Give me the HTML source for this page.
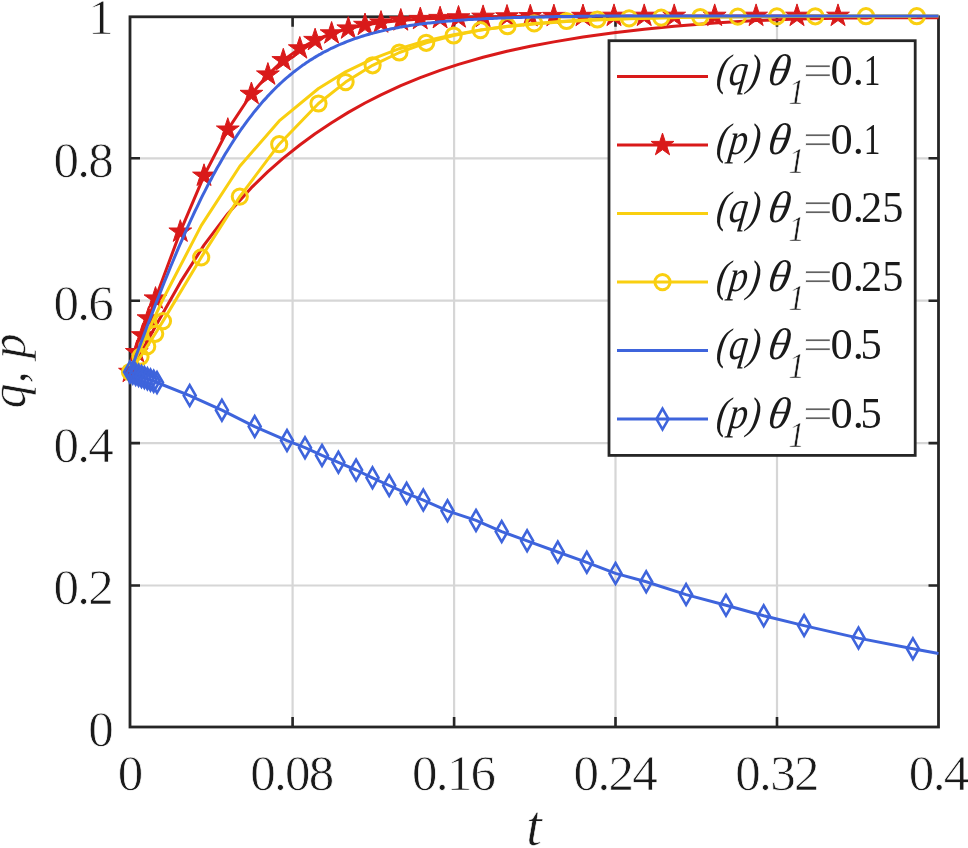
<!DOCTYPE html>
<html><head><meta charset="utf-8"><style>
html,body{margin:0;padding:0;background:#fff;}
svg{display:block;filter:blur(0.45px);}
text{font-family:"Liberation Serif",serif;fill:#1a1a1a;stroke:#fff;stroke-width:0.6px;paint-order:normal;}
.tk{font-size:51px;letter-spacing:-1.7px;stroke-width:0.75px;}
.lab{font-style:italic;}
.lg{font-size:44.5px;stroke-width:0px;}
</style></head><body>
<svg width="968" height="848" viewBox="0 0 968 848">
<rect width="968" height="848" fill="#fff"/>
<line x1="292.6" y1="16.8" x2="292.6" y2="727.0" stroke="#D6D6D6" stroke-width="2.2"/>
<line x1="130.0" y1="585.5" x2="938.5" y2="585.5" stroke="#D6D6D6" stroke-width="2.2"/>
<line x1="454.1" y1="16.8" x2="454.1" y2="727.0" stroke="#D6D6D6" stroke-width="2.2"/>
<line x1="130.0" y1="443.1" x2="938.5" y2="443.1" stroke="#D6D6D6" stroke-width="2.2"/>
<line x1="615.5" y1="16.8" x2="615.5" y2="727.0" stroke="#D6D6D6" stroke-width="2.2"/>
<line x1="130.0" y1="300.7" x2="938.5" y2="300.7" stroke="#D6D6D6" stroke-width="2.2"/>
<line x1="777.0" y1="16.8" x2="777.0" y2="727.0" stroke="#D6D6D6" stroke-width="2.2"/>
<line x1="130.0" y1="158.3" x2="938.5" y2="158.3" stroke="#D6D6D6" stroke-width="2.2"/>
<path d="M292.6 727.0 V717.0 M292.6 16.8 V26.8 M130.0 585.5 H140.0 M938.5 585.5 H928.5 M454.1 727.0 V717.0 M454.1 16.8 V26.8 M130.0 443.1 H140.0 M938.5 443.1 H928.5 M615.5 727.0 V717.0 M615.5 16.8 V26.8 M130.0 300.7 H140.0 M938.5 300.7 H928.5 M777.0 727.0 V717.0 M777.0 16.8 V26.8 M130.0 158.3 H140.0 M938.5 158.3 H928.5" stroke="#262626" stroke-width="2.6" fill="none"/>
<rect x="130.0" y="16.8" width="808.5" height="710.2" fill="none" stroke="#262626" stroke-width="2.8"/>
<path d="M130.0 372.0 L136.8 360.1 L142.6 349.7 L148.5 339.0 L155.5 326.2 L180.3 282.4 L204.0 245.1 L227.8 213.7 L251.4 187.7 L267.9 171.7 L283.3 158.2 L299.8 145.0 L315.1 133.8 L331.6 122.7 L348.3 112.4 L365.0 103.0 L381.0 94.9 L400.8 85.7 L420.3 77.7 L440.1 70.4 L458.5 64.4 L483.1 57.3 L507.0 51.3 L530.3 46.3 L553.9 41.9 L583.0 37.1 L614.0 32.8 L644.2 29.3 L674.2 26.3 L714.7 23.0 L756.1 20.6 L797.0 19.1 L838.0 18.2 L839.7 18.2 L841.4 18.2 L843.1 18.1 L844.8 18.1 L846.5 18.1 L848.2 18.1 L849.9 18.0 L851.6 18.0 L853.3 18.0 L855.0 18.0 L856.7 18.0 L858.4 17.9 L860.1 17.9 L861.8 17.9 L863.6 17.9 L865.3 17.9 L867.0 17.9 L868.7 17.8 L870.4 17.8 L872.1 17.8 L873.8 17.8 L875.5 17.8 L877.2 17.8 L878.9 17.8 L880.6 17.8 L882.3 17.7 L884.0 17.7 L885.7 17.7 L887.4 17.7 L889.1 17.7 L890.8 17.7 L892.5 17.7 L894.2 17.7 L895.9 17.7 L897.6 17.7 L899.3 17.7 L901.0 17.7 L902.7 17.7 L904.4 17.7 L906.1 17.7 L907.8 17.7 L909.5 17.7 L911.2 17.7 L912.9 17.7 L914.7 17.7 L916.4 17.7 L918.1 17.7 L919.8 17.7 L921.5 17.7 L923.2 17.7 L924.9 17.7 L926.6 17.7 L928.3 17.7 L930.0 17.7 L931.7 17.7 L933.4 17.7 L935.1 17.7 L936.8 17.7 L938.5 17.7" fill="none" stroke="#D91A1A" stroke-width="3.0" stroke-linejoin="round" stroke-linecap="butt"/>
<path d="M130.0 372.0 L136.8 352.2 L142.6 335.4 L148.5 318.5 L155.5 298.6 L180.3 231.7 L204.0 175.8 L227.8 129.7 L251.4 94.0 L267.9 74.6 L283.3 60.3 L299.8 48.5 L315.1 40.2 L331.6 33.5 L348.3 28.6 L365.0 25.0 L381.0 22.6 L400.8 20.5 L420.3 19.1 L440.1 18.2 L458.5 17.5 L483.1 16.9 L507.0 16.5 L530.3 16.3 L553.9 16.1 L583.0 16.0 L614.0 15.9 L644.2 15.9 L674.2 15.9 L714.7 15.9 L756.1 15.9 L797.0 15.9 L838.0 15.9" fill="none" stroke="#D91A1A" stroke-width="3.0" stroke-linejoin="round" stroke-linecap="butt"/>
<g fill="#D91A1A" stroke="#D91A1A" stroke-width="1"><path d="M130.0 360.0 L132.7 368.3 L141.4 368.3 L134.4 373.4 L137.1 381.7 L130.0 376.6 L122.9 381.7 L125.6 373.4 L118.6 368.3 L127.3 368.3Z"/><path d="M136.8 340.2 L139.5 348.5 L148.2 348.5 L141.2 353.7 L143.9 361.9 L136.8 356.8 L129.7 361.9 L132.4 353.7 L125.4 348.5 L134.1 348.5Z"/><path d="M142.6 323.4 L145.3 331.7 L154.0 331.7 L147.0 336.9 L149.7 345.1 L142.6 340.0 L135.5 345.1 L138.2 336.9 L131.2 331.7 L139.9 331.7Z"/><path d="M148.5 306.5 L151.2 314.8 L159.9 314.8 L152.9 319.9 L155.6 328.2 L148.5 323.1 L141.4 328.2 L144.1 319.9 L137.1 314.8 L145.8 314.8Z"/><path d="M155.5 286.6 L158.2 294.9 L166.9 294.9 L159.9 300.0 L162.6 308.3 L155.5 303.1 L148.4 308.3 L151.1 300.0 L144.1 294.9 L152.8 294.9Z"/><path d="M180.3 219.7 L183.0 228.0 L191.7 228.0 L184.7 233.1 L187.4 241.4 L180.3 236.3 L173.2 241.4 L175.9 233.1 L168.9 228.0 L177.6 228.0Z"/><path d="M204.0 163.8 L206.7 172.1 L215.4 172.1 L208.4 177.3 L211.1 185.5 L204.0 180.4 L196.9 185.5 L199.6 177.3 L192.6 172.1 L201.3 172.1Z"/><path d="M227.8 117.7 L230.5 126.0 L239.2 126.0 L232.2 131.1 L234.9 139.4 L227.8 134.3 L220.7 139.4 L223.4 131.1 L216.4 126.0 L225.1 126.0Z"/><path d="M251.4 82.0 L254.1 90.3 L262.8 90.3 L255.8 95.4 L258.5 103.7 L251.4 98.6 L244.3 103.7 L247.0 95.4 L240.0 90.3 L248.7 90.3Z"/><path d="M267.9 62.6 L270.6 70.9 L279.3 70.9 L272.3 76.0 L275.0 84.3 L267.9 79.2 L260.8 84.3 L263.5 76.0 L256.5 70.9 L265.2 70.9Z"/><path d="M283.3 48.3 L286.0 56.6 L294.7 56.6 L287.7 61.7 L290.4 70.0 L283.3 64.9 L276.2 70.0 L278.9 61.7 L271.9 56.6 L280.6 56.6Z"/><path d="M299.8 36.5 L302.5 44.8 L311.2 44.8 L304.2 49.9 L306.9 58.2 L299.8 53.0 L292.7 58.2 L295.4 49.9 L288.4 44.8 L297.1 44.8Z"/><path d="M315.1 28.2 L317.8 36.4 L326.5 36.4 L319.5 41.6 L322.2 49.9 L315.1 44.7 L308.0 49.9 L310.7 41.6 L303.7 36.4 L312.4 36.4Z"/><path d="M331.6 21.5 L334.3 29.8 L343.0 29.8 L336.0 34.9 L338.7 43.2 L331.6 38.1 L324.5 43.2 L327.2 34.9 L320.2 29.8 L328.9 29.8Z"/><path d="M348.3 16.6 L351.0 24.9 L359.7 24.9 L352.7 30.0 L355.4 38.3 L348.3 33.1 L341.2 38.3 L343.9 30.0 L336.9 24.9 L345.6 24.9Z"/><path d="M365.0 13.0 L367.7 21.3 L376.4 21.3 L369.4 26.5 L372.1 34.7 L365.0 29.6 L357.9 34.7 L360.6 26.5 L353.6 21.3 L362.3 21.3Z"/><path d="M381.0 10.6 L383.7 18.9 L392.4 18.9 L385.4 24.0 L388.1 32.3 L381.0 27.2 L373.9 32.3 L376.6 24.0 L369.6 18.9 L378.3 18.9Z"/><path d="M400.8 8.5 L403.5 16.8 L412.2 16.8 L405.2 21.9 L407.9 30.2 L400.8 25.1 L393.7 30.2 L396.4 21.9 L389.4 16.8 L398.1 16.8Z"/><path d="M420.3 7.1 L423.0 15.4 L431.7 15.4 L424.7 20.5 L427.4 28.8 L420.3 23.7 L413.2 28.8 L415.9 20.5 L408.9 15.4 L417.6 15.4Z"/><path d="M440.1 6.2 L442.8 14.4 L451.5 14.4 L444.5 19.6 L447.2 27.9 L440.1 22.7 L433.0 27.9 L435.7 19.6 L428.7 14.4 L437.4 14.4Z"/><path d="M458.5 5.5 L461.2 13.8 L469.9 13.8 L462.9 18.9 L465.6 27.2 L458.5 22.1 L451.4 27.2 L454.1 18.9 L447.1 13.8 L455.8 13.8Z"/><path d="M483.1 4.9 L485.8 13.2 L494.5 13.2 L487.5 18.3 L490.2 26.6 L483.1 21.5 L476.0 26.6 L478.7 18.3 L471.7 13.2 L480.4 13.2Z"/><path d="M507.0 4.5 L509.7 12.8 L518.4 12.8 L511.4 18.0 L514.1 26.3 L507.0 21.1 L499.9 26.3 L502.6 18.0 L495.6 12.8 L504.3 12.8Z"/><path d="M530.3 4.3 L533.0 12.6 L541.7 12.6 L534.7 17.7 L537.4 26.0 L530.3 20.9 L523.2 26.0 L525.9 17.7 L518.9 12.6 L527.6 12.6Z"/><path d="M553.9 4.1 L556.6 12.4 L565.3 12.4 L558.3 17.5 L561.0 25.8 L553.9 20.7 L546.8 25.8 L549.5 17.5 L542.5 12.4 L551.2 12.4Z"/><path d="M583.0 4.0 L585.7 12.3 L594.4 12.3 L587.4 17.4 L590.1 25.7 L583.0 20.6 L575.9 25.7 L578.6 17.4 L571.6 12.3 L580.3 12.3Z"/><path d="M614.0 3.9 L616.7 12.2 L625.4 12.2 L618.4 17.3 L621.1 25.6 L614.0 20.5 L606.9 25.6 L609.6 17.3 L602.6 12.2 L611.3 12.2Z"/><path d="M644.2 3.9 L646.9 12.2 L655.6 12.2 L648.6 17.3 L651.3 25.6 L644.2 20.5 L637.1 25.6 L639.8 17.3 L632.8 12.2 L641.5 12.2Z"/><path d="M674.2 3.9 L676.9 12.2 L685.6 12.2 L678.6 17.3 L681.3 25.6 L674.2 20.5 L667.1 25.6 L669.8 17.3 L662.8 12.2 L671.5 12.2Z"/><path d="M714.7 3.9 L717.4 12.2 L726.1 12.2 L719.1 17.3 L721.8 25.6 L714.7 20.5 L707.6 25.6 L710.3 17.3 L703.3 12.2 L712.0 12.2Z"/><path d="M756.1 3.9 L758.8 12.2 L767.5 12.2 L760.5 17.3 L763.2 25.6 L756.1 20.5 L749.0 25.6 L751.7 17.3 L744.7 12.2 L753.4 12.2Z"/><path d="M797.0 3.9 L799.7 12.2 L808.4 12.2 L801.4 17.3 L804.1 25.6 L797.0 20.5 L789.9 25.6 L792.6 17.3 L785.6 12.2 L794.3 12.2Z"/><path d="M838.0 3.9 L840.7 12.2 L849.4 12.2 L842.4 17.3 L845.1 25.6 L838.0 20.5 L830.9 25.6 L833.6 17.3 L826.6 12.2 L835.3 12.2Z"/></g>
<path d="M130.0 372.0 L140.5 348.3 L147.2 333.4 L155.2 315.9 L163.0 299.3 L201.2 225.6 L239.8 166.2 L279.2 120.9 L318.5 88.5 L345.6 71.8 L372.6 58.8 L399.4 48.7 L426.2 40.8 L453.6 34.7 L480.5 30.0 L507.5 26.5 L534.2 23.9 L566.5 21.5 L597.4 19.9 L629.1 18.7 L661.2 17.9 L700.2 17.1 L737.8 16.7 L776.9 16.4 L815.3 16.1 L866.0 16.0 L916.8 15.9 L917.2 15.9 L917.5 15.9 L917.9 15.9 L918.3 15.9 L918.6 15.9 L919.0 15.9 L919.4 15.9 L919.7 15.9 L920.1 15.9 L920.5 15.9 L920.8 15.9 L921.2 15.9 L921.6 15.9 L921.9 15.9 L922.3 15.9 L922.7 15.9 L923.1 15.9 L923.4 15.9 L923.8 15.9 L924.2 15.9 L924.5 15.9 L924.9 15.9 L925.3 15.9 L925.6 15.9 L926.0 15.9 L926.4 15.9 L926.7 15.9 L927.1 15.9 L927.5 15.9 L927.8 15.9 L928.2 15.9 L928.6 15.9 L928.9 15.9 L929.3 15.9 L929.7 15.9 L930.0 15.9 L930.4 15.9 L930.8 15.9 L931.1 15.9 L931.5 15.9 L931.9 15.9 L932.2 15.9 L932.6 15.9 L933.0 15.9 L933.4 15.9 L933.7 15.9 L934.1 15.9 L934.5 15.9 L934.8 15.9 L935.2 15.9 L935.6 15.9 L935.9 15.9 L936.3 15.9 L936.7 15.9 L937.0 15.9 L937.4 15.9 L937.8 15.9 L938.1 15.9 L938.5 15.9" fill="none" stroke="#F9CF10" stroke-width="3.0" stroke-linejoin="round" stroke-linecap="butt"/>
<path d="M130.0 372.0 L140.5 356.7 L147.2 346.4 L155.2 333.8 L163.0 321.1 L201.2 257.4 L239.8 196.6 L279.2 144.2 L318.5 103.5 L345.6 82.1 L372.6 65.3 L399.4 52.5 L426.2 42.8 L453.6 35.5 L480.5 30.1 L507.5 26.2 L534.2 23.4 L566.5 21.0 L597.4 19.5 L629.1 18.4 L661.2 17.6 L700.2 17.0 L737.8 16.6 L776.9 16.4 L815.3 16.3 L866.0 16.2 L916.8 16.2" fill="none" stroke="#F9CF10" stroke-width="3.0" stroke-linejoin="round" stroke-linecap="butt"/>
<g fill="none" stroke="#F9CF10" stroke-width="3"><circle cx="130.0" cy="372.0" r="7.6"/><circle cx="140.5" cy="356.7" r="7.6"/><circle cx="147.2" cy="346.4" r="7.6"/><circle cx="155.2" cy="333.8" r="7.6"/><circle cx="163.0" cy="321.1" r="7.6"/><circle cx="201.2" cy="257.4" r="7.6"/><circle cx="239.8" cy="196.6" r="7.6"/><circle cx="279.2" cy="144.2" r="7.6"/><circle cx="318.5" cy="103.5" r="7.6"/><circle cx="345.6" cy="82.1" r="7.6"/><circle cx="372.6" cy="65.3" r="7.6"/><circle cx="399.4" cy="52.5" r="7.6"/><circle cx="426.2" cy="42.8" r="7.6"/><circle cx="453.6" cy="35.5" r="7.6"/><circle cx="480.5" cy="30.1" r="7.6"/><circle cx="507.5" cy="26.2" r="7.6"/><circle cx="534.2" cy="23.4" r="7.6"/><circle cx="566.5" cy="21.0" r="7.6"/><circle cx="597.4" cy="19.5" r="7.6"/><circle cx="629.1" cy="18.4" r="7.6"/><circle cx="661.2" cy="17.6" r="7.6"/><circle cx="700.2" cy="17.0" r="7.6"/><circle cx="737.8" cy="16.6" r="7.6"/><circle cx="776.9" cy="16.4" r="7.6"/><circle cx="815.3" cy="16.3" r="7.6"/><circle cx="866.0" cy="16.2" r="7.6"/><circle cx="916.8" cy="16.2" r="7.6"/></g>
<path d="M130.0 372.0 L132.0 366.6 L134.1 361.2 L136.1 355.7 L138.1 350.3 L140.1 344.9 L142.2 339.5 L144.2 334.2 L146.2 328.8 L148.2 323.5 L150.3 318.2 L152.3 312.9 L154.3 307.6 L156.3 302.4 L158.4 297.2 L160.4 292.1 L162.4 287.0 L164.4 281.9 L166.5 276.9 L168.5 271.9 L170.5 266.9 L172.6 262.0 L174.6 257.2 L176.6 252.4 L178.6 247.6 L180.7 242.9 L182.7 238.3 L184.7 233.7 L186.7 229.1 L188.8 224.6 L190.8 220.2 L192.8 215.8 L194.8 211.5 L196.9 207.3 L198.9 203.1 L200.9 198.9 L202.9 194.9 L205.0 190.9 L207.0 186.9 L209.0 183.0 L211.1 179.2 L213.1 175.4 L215.1 171.7 L217.1 168.0 L219.2 164.5 L221.2 160.9 L223.2 157.5 L225.2 154.1 L227.3 150.7 L229.3 147.5 L231.3 144.2 L233.3 141.1 L235.4 138.0 L237.4 134.9 L239.4 132.0 L241.4 129.0 L243.5 126.2 L245.5 123.4 L247.5 120.6 L249.6 117.9 L251.6 115.3 L253.6 112.7 L255.6 110.2 L257.7 107.7 L259.7 105.3 L261.7 102.9 L263.7 100.6 L265.8 98.4 L267.8 96.1 L269.8 94.0 L271.8 91.9 L273.9 89.8 L275.9 87.8 L277.9 85.8 L279.9 83.9 L282.0 82.0 L284.0 80.2 L286.0 78.4 L288.1 76.7 L290.1 75.0 L292.1 73.3 L294.1 71.7 L296.2 70.1 L298.2 68.6 L300.2 67.1 L302.2 65.6 L304.3 64.2 L306.3 62.8 L308.3 61.5 L310.3 60.1 L312.4 58.9 L314.4 57.6 L316.4 56.4 L318.4 55.2 L320.5 54.1 L322.5 52.9 L324.5 51.8 L326.6 50.8 L328.6 49.8 L330.6 48.7 L332.6 47.8 L334.7 46.8 L336.7 45.9 L338.7 45.0 L340.7 44.1 L342.8 43.3 L344.8 42.5 L346.8 41.7 L348.8 40.9 L350.9 40.1 L352.9 39.4 L354.9 38.7 L356.9 38.0 L359.0 37.3 L361.0 36.6 L363.0 36.0 L365.1 35.4 L367.1 34.8 L369.1 34.2 L371.1 33.6 L373.2 33.1 L375.2 32.6 L377.2 32.0 L379.2 31.5 L381.3 31.1 L383.3 30.6 L385.3 30.1 L387.3 29.7 L389.4 29.3 L391.4 28.8 L393.4 28.4 L395.4 28.0 L397.5 27.7 L399.5 27.3 L401.5 26.9 L403.6 26.6 L405.6 26.2 L407.6 25.9 L409.6 25.6 L411.7 25.3 L413.7 25.0 L415.7 24.7 L417.7 24.4 L419.8 24.1 L421.8 23.9 L423.8 23.6 L425.8 23.4 L427.9 23.1 L429.9 22.9 L431.9 22.7 L433.9 22.5 L436.0 22.3 L438.0 22.0 L440.0 21.8 L442.1 21.7 L444.1 21.5 L446.1 21.3 L448.1 21.1 L450.2 20.9 L452.2 20.8 L454.2 20.6 L456.2 20.5 L458.3 20.3 L460.3 20.2 L462.3 20.0 L464.3 19.9 L466.4 19.8 L468.4 19.6 L470.4 19.5 L472.4 19.4 L474.5 19.3 L476.5 19.2 L478.5 19.0 L480.6 18.9 L482.6 18.8 L484.6 18.7 L486.6 18.6 L488.7 18.5 L490.7 18.5 L492.7 18.4 L494.7 18.3 L496.8 18.2 L498.8 18.1 L500.8 18.0 L502.8 18.0 L504.9 17.9 L506.9 17.8 L508.9 17.8 L510.9 17.7 L513.0 17.6 L515.0 17.6 L517.0 17.5 L519.1 17.4 L521.1 17.4 L523.1 17.3 L525.1 17.3 L527.2 17.2 L529.2 17.2 L531.2 17.1 L533.2 17.1 L535.3 17.0 L537.3 17.0 L539.3 16.9 L541.3 16.9 L543.4 16.9 L545.4 16.8 L547.4 16.8 L549.4 16.8 L551.5 16.7 L553.5 16.7 L555.5 16.6 L557.6 16.6 L559.6 16.6 L561.6 16.6 L563.6 16.5 L565.7 16.5 L567.7 16.5 L569.7 16.4 L571.7 16.4 L573.8 16.4 L575.8 16.4 L577.8 16.3 L579.8 16.3 L581.9 16.3 L583.9 16.3 L585.9 16.2 L587.9 16.2 L590.0 16.2 L592.0 16.2 L594.0 16.2 L596.1 16.1 L598.1 16.1 L600.1 16.1 L602.1 16.1 L604.2 16.1 L606.2 16.1 L608.2 16.1 L610.2 16.0 L612.3 16.0 L614.3 16.0 L616.3 16.0 L618.3 16.0 L620.4 16.0 L622.4 16.0 L624.4 15.9 L626.4 15.9 L628.5 15.9 L630.5 15.9 L632.5 15.9 L634.6 15.9 L636.6 15.9 L638.6 15.9 L640.6 15.9 L642.7 15.9 L644.7 15.9 L646.7 15.9 L648.7 15.9 L650.8 15.9 L652.8 15.9 L654.8 15.9 L656.8 15.9 L658.9 15.9 L660.9 15.9 L662.9 15.9 L664.9 15.9 L667.0 15.9 L669.0 15.9 L671.0 15.9 L673.1 15.9 L675.1 15.9 L677.1 15.9 L679.1 15.9 L681.2 15.9 L683.2 15.9 L685.2 15.9 L687.2 15.9 L689.3 15.9 L691.3 15.9 L693.3 15.9 L695.3 15.9 L697.4 15.9 L699.4 15.9 L701.4 15.9 L703.4 15.9 L705.5 15.9 L707.5 15.9 L709.5 15.9 L711.6 15.9 L713.6 15.9 L715.6 15.9 L717.6 15.9 L719.7 15.9 L721.7 15.9 L723.7 15.9 L725.7 15.9 L727.8 15.9 L729.8 15.9 L731.8 15.9 L733.8 15.9 L735.9 15.9 L737.9 15.9 L739.9 15.9 L741.9 15.9 L744.0 15.9 L746.0 15.9 L748.0 15.9 L750.1 15.9 L752.1 15.9 L754.1 15.9 L756.1 15.9 L758.2 15.9 L760.2 15.9 L762.2 15.9 L764.2 15.9 L766.3 15.9 L768.3 15.9 L770.3 15.9 L772.3 15.9 L774.4 15.9 L776.4 15.9 L778.4 15.9 L780.4 15.9 L782.5 15.9 L784.5 15.9 L786.5 15.9 L788.6 15.9 L790.6 15.9 L792.6 15.9 L794.6 15.9 L796.7 15.9 L798.7 15.9 L800.7 15.9 L802.7 15.9 L804.8 15.9 L806.8 15.9 L808.8 15.9 L810.8 15.9 L812.9 15.9 L814.9 15.9 L816.9 15.9 L818.9 15.9 L821.0 15.9 L823.0 15.9 L825.0 15.9 L827.1 15.9 L829.1 15.9 L831.1 15.9 L833.1 15.9 L835.2 15.9 L837.2 15.9 L839.2 15.9 L841.2 15.9 L843.3 15.9 L845.3 15.9 L847.3 15.9 L849.3 15.9 L851.4 15.9 L853.4 15.9 L855.4 15.9 L857.4 15.9 L859.5 15.9 L861.5 15.9 L863.5 15.9 L865.6 15.9 L867.6 15.9 L869.6 15.9 L871.6 15.9 L873.7 15.9 L875.7 15.9 L877.7 15.9 L879.7 15.9 L881.8 15.9 L883.8 15.9 L885.8 15.9 L887.8 15.9 L889.9 15.9 L891.9 15.9 L893.9 15.9 L895.9 15.9 L898.0 15.9 L900.0 15.9 L902.0 15.9 L904.1 15.9 L906.1 15.9 L908.1 15.9 L910.1 15.9 L912.2 15.9 L914.2 15.9 L916.2 15.9 L918.2 15.9 L920.3 15.9 L922.3 15.9 L924.3 15.9 L926.3 15.9 L928.4 15.9 L930.4 15.9 L932.4 15.9 L934.4 15.9 L936.5 15.9 L938.5 15.9" fill="none" stroke="#3E64DC" stroke-width="3.0" stroke-linejoin="round" stroke-linecap="butt"/>
<path d="M130.0 372.0 L132.8 373.1 L135.7 374.2 L138.6 375.3 L141.5 376.5 L144.4 377.6 L147.4 378.8 L150.5 380.0 L153.7 381.2 L157.0 382.5 L189.7 395.6 L221.9 410.2 L254.7 426.6 L287.0 440.6 L305.0 447.7 L322.0 455.4 L338.4 462.3 L356.1 470.0 L372.5 477.8 L389.2 485.5 L406.6 493.3 L423.3 500.1 L447.5 510.8 L476.0 520.4 L501.7 531.6 L527.1 540.8 L557.8 552.0 L586.8 562.3 L615.5 573.4 L646.2 581.8 L686.1 594.6 L726.0 605.2 L763.7 615.8 L804.1 625.6 L858.5 638.1 L912.9 648.7 L938.5 653.4" fill="none" stroke="#3E64DC" stroke-width="3.0" stroke-linejoin="round" stroke-linecap="butt"/>
<g fill="none" stroke="#3E64DC" stroke-width="2.6" stroke-linejoin="miter"><path d="M130.0 361.6 L136.0 372.0 L130.0 382.4 L124.0 372.0Z"/><path d="M132.8 362.7 L138.8 373.1 L132.8 383.5 L126.8 373.1Z"/><path d="M135.7 363.8 L141.7 374.2 L135.7 384.6 L129.7 374.2Z"/><path d="M138.6 364.9 L144.6 375.3 L138.6 385.7 L132.6 375.3Z"/><path d="M141.5 366.1 L147.5 376.5 L141.5 386.9 L135.5 376.5Z"/><path d="M144.4 367.2 L150.4 377.6 L144.4 388.0 L138.4 377.6Z"/><path d="M147.4 368.4 L153.4 378.8 L147.4 389.2 L141.4 378.8Z"/><path d="M150.5 369.6 L156.5 380.0 L150.5 390.4 L144.5 380.0Z"/><path d="M153.7 370.8 L159.7 381.2 L153.7 391.6 L147.7 381.2Z"/><path d="M157.0 372.1 L163.0 382.5 L157.0 392.9 L151.0 382.5Z"/><path d="M189.7 385.2 L195.7 395.6 L189.7 406.0 L183.7 395.6Z"/><path d="M221.9 399.8 L227.9 410.2 L221.9 420.6 L215.9 410.2Z"/><path d="M254.7 416.2 L260.7 426.6 L254.7 437.0 L248.7 426.6Z"/><path d="M287.0 430.2 L293.0 440.6 L287.0 451.0 L281.0 440.6Z"/><path d="M305.0 437.3 L311.0 447.7 L305.0 458.1 L299.0 447.7Z"/><path d="M322.0 445.0 L328.0 455.4 L322.0 465.8 L316.0 455.4Z"/><path d="M338.4 451.9 L344.4 462.3 L338.4 472.7 L332.4 462.3Z"/><path d="M356.1 459.6 L362.1 470.0 L356.1 480.4 L350.1 470.0Z"/><path d="M372.5 467.4 L378.5 477.8 L372.5 488.2 L366.5 477.8Z"/><path d="M389.2 475.1 L395.2 485.5 L389.2 495.9 L383.2 485.5Z"/><path d="M406.6 482.9 L412.6 493.3 L406.6 503.7 L400.6 493.3Z"/><path d="M423.3 489.7 L429.3 500.1 L423.3 510.5 L417.3 500.1Z"/><path d="M447.5 500.4 L453.5 510.8 L447.5 521.2 L441.5 510.8Z"/><path d="M476.0 510.0 L482.0 520.4 L476.0 530.8 L470.0 520.4Z"/><path d="M501.7 521.2 L507.7 531.6 L501.7 542.0 L495.7 531.6Z"/><path d="M527.1 530.4 L533.1 540.8 L527.1 551.2 L521.1 540.8Z"/><path d="M557.8 541.6 L563.8 552.0 L557.8 562.4 L551.8 552.0Z"/><path d="M586.8 551.9 L592.8 562.3 L586.8 572.7 L580.8 562.3Z"/><path d="M615.5 563.0 L621.5 573.4 L615.5 583.8 L609.5 573.4Z"/><path d="M646.2 571.4 L652.2 581.8 L646.2 592.2 L640.2 581.8Z"/><path d="M686.1 584.2 L692.1 594.6 L686.1 605.0 L680.1 594.6Z"/><path d="M726.0 594.8 L732.0 605.2 L726.0 615.6 L720.0 605.2Z"/><path d="M763.7 605.4 L769.7 615.8 L763.7 626.2 L757.7 615.8Z"/><path d="M804.1 615.2 L810.1 625.6 L804.1 636.0 L798.1 625.6Z"/><path d="M858.5 627.7 L864.5 638.1 L858.5 648.5 L852.5 638.1Z"/><path d="M912.9 638.3 L918.9 648.7 L912.9 659.1 L906.9 648.7Z"/></g>
<text x="0" y="0" text-anchor="middle" class="tk" transform="translate(129.7,790.2) scale(1.0,1)">0</text>
<text x="0" y="0" text-anchor="middle" class="tk" transform="translate(291.4,790.2) scale(1.0,1)">0.08</text>
<text x="0" y="0" text-anchor="middle" class="tk" transform="translate(453.1,790.2) scale(1.0,1)">0.16</text>
<text x="0" y="0" text-anchor="middle" class="tk" transform="translate(614.8,790.2) scale(1.0,1)">0.24</text>
<text x="0" y="0" text-anchor="middle" class="tk" transform="translate(776.5,790.2) scale(1.0,1)">0.32</text>
<text x="0" y="0" text-anchor="middle" class="tk" transform="translate(938.2,790.2) scale(1.0,1)">0.4</text>
<text x="0" y="0" text-anchor="end" class="tk" transform="translate(112.1,745.6) scale(1.0,1)">0</text>
<text x="0" y="0" text-anchor="end" class="tk" transform="translate(112.1,603.6) scale(1.0,1)">0.2</text>
<text x="0" y="0" text-anchor="end" class="tk" transform="translate(112.1,461.5) scale(1.0,1)">0.4</text>
<text x="0" y="0" text-anchor="end" class="tk" transform="translate(112.1,319.5) scale(1.0,1)">0.6</text>
<text x="0" y="0" text-anchor="end" class="tk" transform="translate(112.1,177.4) scale(1.0,1)">0.8</text>
<text x="0" y="0" text-anchor="end" class="tk" transform="translate(112.1,33.8) scale(1.0,1)">1</text>
<text x="534" y="845" text-anchor="middle" class="lab" style="font-size:56px">t</text>
<text transform="translate(24.5,371) rotate(-90)" text-anchor="middle" class="lab" style="font-size:50px">q, p</text>
<rect x="609" y="40.7" width="306.2" height="414.7" fill="#fff" stroke="#262626" stroke-width="2.8"/>
<line x1="617" y1="76.6" x2="708" y2="76.6" stroke="#D91A1A" stroke-width="3"/>
<text x="0" y="0" class="lg" font-style="italic" textLength="44" lengthAdjust="spacingAndGlyphs" transform="translate(715.3,85.3) skewX(-7)">(q)</text>
<text x="766.5" y="85.3" class="lg" font-style="italic" transform="translate(766.5,85.3) skewX(-9) translate(-766.5,-85.3)">θ</text>
<text x="0" y="104.3" class="lg" font-style="italic" style="font-size:35px;stroke-width:0.5px" transform="translate(788.6,0) scale(0.92,1)">1</text>
<text x="802.5" y="85.3" class="lg" style="stroke-width:1.1px" transform="translate(802.5,0) scale(1.22,1) translate(-802.5,0)">=</text>
<text x="830.5" y="85.3" class="lg">0.</text>
<text x="0" y="85.3" class="lg" transform="translate(863.7,0) scale(0.75,1)">1</text>
<line x1="617" y1="145.1" x2="708" y2="145.1" stroke="#D91A1A" stroke-width="3"/>
<path d="M662.5 133.1 L665.2 141.4 L673.9 141.4 L666.9 146.5 L669.6 154.8 L662.5 149.7 L655.4 154.8 L658.1 146.5 L651.1 141.4 L659.8 141.4Z" fill="#D91A1A" stroke="#D91A1A" stroke-width="1"/>
<text x="0" y="0" class="lg" font-style="italic" textLength="44" lengthAdjust="spacingAndGlyphs" transform="translate(715.3,153.8) skewX(-7)">(p)</text>
<text x="766.5" y="153.8" class="lg" font-style="italic" transform="translate(766.5,153.8) skewX(-9) translate(-766.5,-153.8)">θ</text>
<text x="0" y="172.8" class="lg" font-style="italic" style="font-size:35px;stroke-width:0.5px" transform="translate(788.6,0) scale(0.92,1)">1</text>
<text x="802.5" y="153.8" class="lg" style="stroke-width:1.1px" transform="translate(802.5,0) scale(1.22,1) translate(-802.5,0)">=</text>
<text x="830.5" y="153.8" class="lg">0.</text>
<text x="0" y="153.8" class="lg" transform="translate(863.7,0) scale(0.75,1)">1</text>
<line x1="617" y1="213.6" x2="708" y2="213.6" stroke="#F9CF10" stroke-width="3"/>
<text x="0" y="0" class="lg" font-style="italic" textLength="44" lengthAdjust="spacingAndGlyphs" transform="translate(715.3,222.3) skewX(-7)">(q)</text>
<text x="766.5" y="222.3" class="lg" font-style="italic" transform="translate(766.5,222.3) skewX(-9) translate(-766.5,-222.3)">θ</text>
<text x="0" y="241.3" class="lg" font-style="italic" style="font-size:35px;stroke-width:0.5px" transform="translate(788.6,0) scale(0.92,1)">1</text>
<text x="802.5" y="222.3" class="lg" style="stroke-width:1.1px" transform="translate(802.5,0) scale(1.22,1) translate(-802.5,0)">=</text>
<text x="830.5" y="222.3" class="lg">0.</text>
<text x="0" y="222.3" class="lg" transform="translate(861.1,0) scale(0.95,1)">25</text>
<line x1="617" y1="282.1" x2="708" y2="282.1" stroke="#F9CF10" stroke-width="3"/>
<circle cx="662.5" cy="282.1" r="7.6" fill="none" stroke="#F9CF10" stroke-width="3"/>
<text x="0" y="0" class="lg" font-style="italic" textLength="44" lengthAdjust="spacingAndGlyphs" transform="translate(715.3,290.8) skewX(-7)">(p)</text>
<text x="766.5" y="290.8" class="lg" font-style="italic" transform="translate(766.5,290.8) skewX(-9) translate(-766.5,-290.8)">θ</text>
<text x="0" y="309.8" class="lg" font-style="italic" style="font-size:35px;stroke-width:0.5px" transform="translate(788.6,0) scale(0.92,1)">1</text>
<text x="802.5" y="290.8" class="lg" style="stroke-width:1.1px" transform="translate(802.5,0) scale(1.22,1) translate(-802.5,0)">=</text>
<text x="830.5" y="290.8" class="lg">0.</text>
<text x="0" y="290.8" class="lg" transform="translate(861.1,0) scale(0.95,1)">25</text>
<line x1="617" y1="350.6" x2="708" y2="350.6" stroke="#3E64DC" stroke-width="3"/>
<text x="0" y="0" class="lg" font-style="italic" textLength="44" lengthAdjust="spacingAndGlyphs" transform="translate(715.3,359.3) skewX(-7)">(q)</text>
<text x="766.5" y="359.3" class="lg" font-style="italic" transform="translate(766.5,359.3) skewX(-9) translate(-766.5,-359.3)">θ</text>
<text x="0" y="378.3" class="lg" font-style="italic" style="font-size:35px;stroke-width:0.5px" transform="translate(788.6,0) scale(0.92,1)">1</text>
<text x="802.5" y="359.3" class="lg" style="stroke-width:1.1px" transform="translate(802.5,0) scale(1.22,1) translate(-802.5,0)">=</text>
<text x="830.5" y="359.3" class="lg">0.</text>
<text x="0" y="359.3" class="lg" transform="translate(860.5,0) scale(0.955,1)">5</text>
<line x1="617" y1="419.1" x2="708" y2="419.1" stroke="#3E64DC" stroke-width="3"/>
<path d="M662.5 408.7 L668.5 419.1 L662.5 429.5 L656.5 419.1Z" fill="none" stroke="#3E64DC" stroke-width="2.6"/>
<text x="0" y="0" class="lg" font-style="italic" textLength="44" lengthAdjust="spacingAndGlyphs" transform="translate(715.3,427.8) skewX(-7)">(p)</text>
<text x="766.5" y="427.8" class="lg" font-style="italic" transform="translate(766.5,427.8) skewX(-9) translate(-766.5,-427.8)">θ</text>
<text x="0" y="446.8" class="lg" font-style="italic" style="font-size:35px;stroke-width:0.5px" transform="translate(788.6,0) scale(0.92,1)">1</text>
<text x="802.5" y="427.8" class="lg" style="stroke-width:1.1px" transform="translate(802.5,0) scale(1.22,1) translate(-802.5,0)">=</text>
<text x="830.5" y="427.8" class="lg">0.</text>
<text x="0" y="427.8" class="lg" transform="translate(860.5,0) scale(0.955,1)">5</text>
</svg></body></html>
